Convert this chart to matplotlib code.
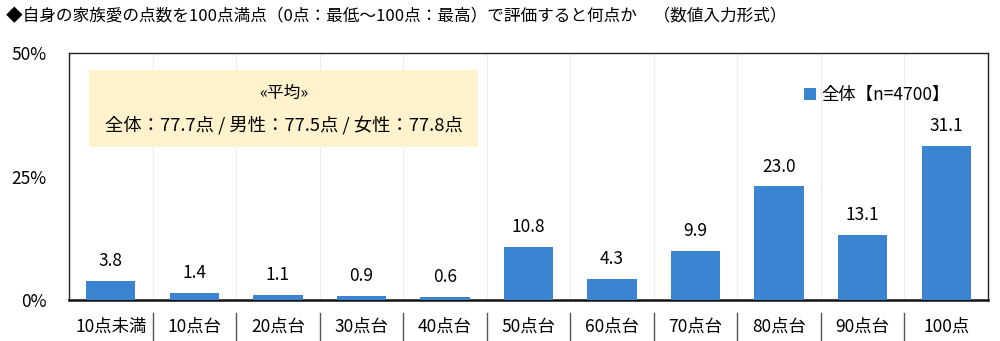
import matplotlib.pyplot as plt
import numpy as np

plt.rcParams['font.family'] = ['Noto Sans CJK JP', 'DejaVu Sans']

categories = ['10点未満', '10点台', '20点台', '30点台', '40点台', '50点台',
              '60点台', '70点台', '80点台', '90点台', '100点']
values = [3.8, 1.4, 1.1, 0.9, 0.6, 10.8, 4.3, 9.9, 23.0, 13.1, 31.1]
yticks = [0, 25, 50]
ytick_labels = ['0%', '25%', '50%']
title = '◆自身の家族愛の点数を100点満点（0点：最低～100点：最高）で評価すると何点か　（数値入力形式）'
legend_label = '全体【n=4700】'
avg_title = '«平均»'
avg_text = '全体：77.7点 / 男性：77.5点 / 女性：77.8点'

bar_color = '#3A84D2'

fig = plt.figure(figsize=(10, 3.41), dpi=100)
ax = fig.add_axes([0.069, 0.1202, 0.919, 0.7244])

x = np.arange(len(categories))
bars = ax.bar(x, values, width=0.59, color=bar_color, label=legend_label, zorder=3)
for xi, v in zip(x, values):
    ax.text(xi, v + 2.2, f'{v:.1f}', ha='center', va='bottom', fontsize=12.5)

ax.set_xlim(-0.5, len(categories) - 0.5)
ax.set_ylim(0, 50)
ax.set_yticks(yticks)
ax.set_yticklabels(ytick_labels, fontsize=12.5)
ax.tick_params(axis='y', length=0, pad=16)
ax.set_xticks([])

# faint category separators inside the plot
for b in np.arange(0.5, len(categories) - 1, 1):
    ax.axvline(b, color='#EDEDED', lw=0.8, zorder=0)
    ax.plot([b, b], [-0.053, -0.162], transform=ax.get_xaxis_transform(),
            color='#555555', lw=1.0, clip_on=False)

for xi, c in zip(x, categories):
    ax.text(xi, -0.11, c, transform=ax.get_xaxis_transform(),
            ha='center', va='center', fontsize=12.5)

for s in ['top', 'left', 'right']:
    ax.spines[s].set_color('#222222')
    ax.spines[s].set_linewidth(1.0)
ax.spines['bottom'].set_color('#111111')
ax.spines['bottom'].set_linewidth(1.8)

# average box
ax.add_patch(plt.Rectangle((-0.26, 0.62), 4.66, 0.31, transform=ax.get_xaxis_transform(),
                           facecolor='#FFF2CC', edgecolor='none', zorder=1))
ax.text(2.07, 0.835, avg_title, transform=ax.get_xaxis_transform(),
        ha='center', va='center', fontsize=12, zorder=2)
ax.text(2.07, 0.71, avg_text, transform=ax.get_xaxis_transform(),
        ha='center', va='center', fontsize=13.2, zorder=2)

ax.legend(loc='upper right', bbox_to_anchor=(0.975, 0.93), frameon=False,
          fontsize=12.5, handlelength=0.7, handleheight=0.7, handletextpad=0.3)

fig.text(0.006, 0.95, title, fontsize=12, ha='left', va='center')

fig.savefig('out.png', dpi=100)
